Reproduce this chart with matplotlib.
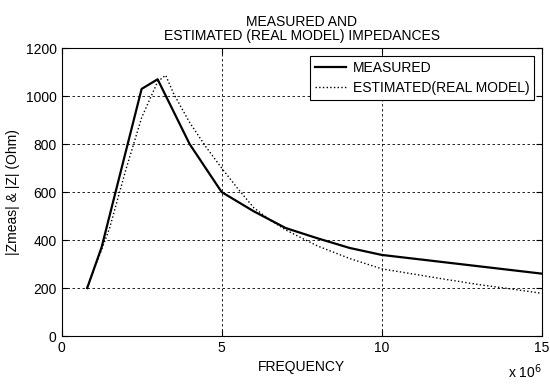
import matplotlib.pyplot as plt

plt.rcParams['font.family'] = ['Liberation Sans', 'DejaVu Sans']

# measured impedance
freq_meas = [0.8e6, 1.25e6, 2.5e6, 3.0e6, 4.0e6, 5.0e6, 6.0e6, 7.0e6, 8.0e6, 9.0e6, 10.0e6, 15.0e6]
z_meas = [200, 370, 1030, 1070, 800, 600, 520, 450, 407, 367, 338, 260]

# estimated (real model) impedance
freq_est = [0.8e6, 1.25e6, 1.5e6, 2.0e6, 2.5e6, 3.0e6, 3.25e6, 3.5e6, 4.0e6, 4.5e6, 5.0e6, 5.5e6,
            6.0e6, 6.5e6, 7.0e6, 8.0e6, 9.0e6, 10.0e6, 11.0e6, 12.0e6, 13.0e6, 14.0e6, 15.0e6]
z_est = [205, 360, 450, 690, 910, 1060, 1087, 1010, 890, 790, 700, 615,
         535, 485, 442, 375, 323, 280, 258, 236, 215, 197, 178]

xticks = [0, 5e6, 10e6, 15e6]
xlabels = ['0', '5', '10', '15']
yticks = [0, 200, 400, 600, 800, 1000, 1200]

fig = plt.figure(figsize=(5.5, 3.88), dpi=100)
ax = fig.add_axes([0.112, 0.134, 0.873, 0.742])

ax.plot(freq_meas, z_meas, color='black', linewidth=1.6, label='MEASURED')
ax.plot(freq_est, z_est, color='black', linewidth=1.0, linestyle=':', label='ESTIMATED(REAL MODEL)')

ax.set_xlim(0, 15e6)
ax.set_ylim(0, 1200)
ax.set_xticks(xticks)
ax.set_xticklabels(xlabels)
ax.set_yticks(yticks)
ax.tick_params(direction='in', top=True, right=True, labelsize=10, length=4)
ax.grid(True, color='black', linestyle=(0, (3, 3)), linewidth=0.6)

ax.set_xlabel('FREQUENCY', fontsize=10)
ax.set_ylabel('|Zmeas| & |Z| (Ohm)', fontsize=10)
ax.set_title('MEASURED AND\nESTIMATED (REAL MODEL) IMPEDANCES', fontsize=10, linespacing=1.0)
ax.text(1.0, -0.09, 'x 10$^6$', transform=ax.transAxes, ha='right', va='top', fontsize=10)

leg = ax.legend(loc='upper right', fontsize=10, fancybox=False, framealpha=1,
                edgecolor='black', borderpad=0.35, handlelength=2.2, handletextpad=0.5,
                labelspacing=0.45, borderaxespad=0.55)
leg.get_frame().set_linewidth(0.8)

plt.savefig('out.png')
